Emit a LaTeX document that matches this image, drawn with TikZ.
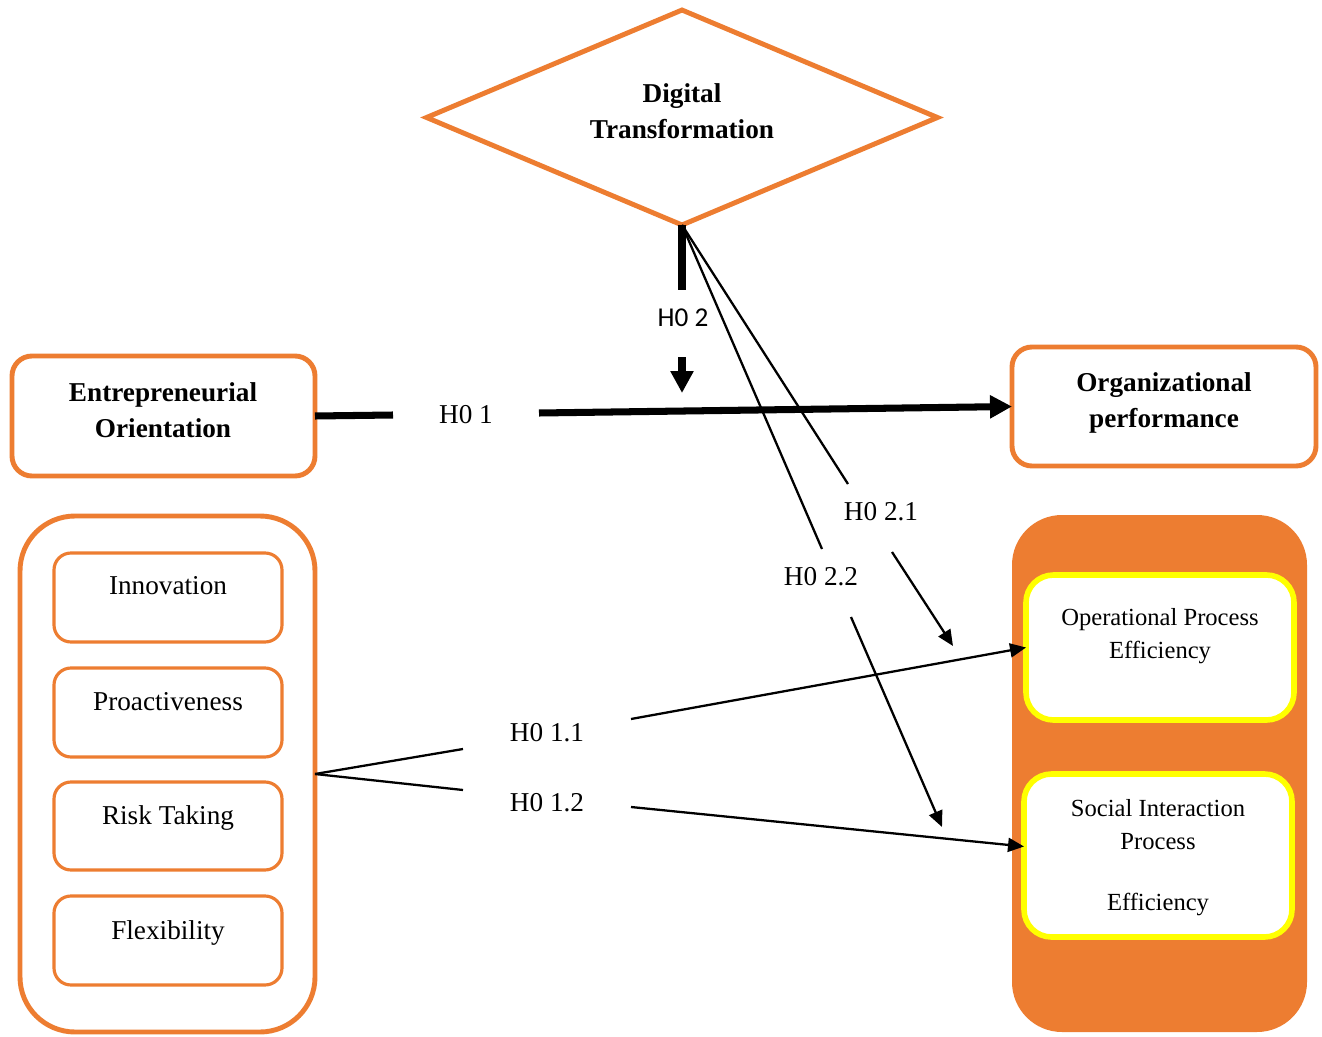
\documentclass[tikz,border=0pt]{standalone}
\usepackage{fontspec}
\setmainfont{Liberation Serif}
\newfontfamily\calibri{Carlito}
\usetikzlibrary{shapes.geometric,arrows.meta,fit,calc}
\definecolor{orng}{HTML}{ED7D31}
\definecolor{yel}{HTML}{FFFF00}
\begin{document}
\begin{tikzpicture}[x=0.02cm,y=-0.02cm,
  obox/.style={draw=orng, line width=2.8pt, rounded corners=0.4cm, inner sep=0pt, outer sep=0pt},
  ibox/.style={draw=orng, line width=1.8pt, rounded corners=0.34cm, inner sep=0pt, outer sep=0pt},
  bigbox/.style={draw=orng, line width=2.8pt, rounded corners=1.1cm, inner sep=0pt, outer sep=0pt},
  fillbox/.style={fill=orng, draw=none, rounded corners=1cm, inner sep=0pt, outer sep=0pt},
  ybox/.style={draw=yel, fill=white, line width=3.2pt, rounded corners=0.55cm, inner sep=0pt, outer sep=0pt},
  btxt/.style={font=\fontsize{15.5}{20.5}\selectfont\bfseries, align=center, inner sep=0pt},
  txt/.style={font=\fontsize{15.5}{20.5}\selectfont, inner sep=0pt},
  stxt/.style={font=\fontsize{14}{18.7}\selectfont, align=center, inner sep=0pt},
  hyp/.style={font=\fontsize{15.5}{20.5}\selectfont, inner sep=0pt, anchor=base},
  heavy/.style={line width=4pt},
  slim/.style={line width=1.3pt},
  bigtip/.style={-{Triangle[length=0.44cm,width=0.44cm]}},
  smalltip/.style={-{Triangle[length=0.32cm,width=0.28cm]}}
]
\fill[white] (0,0) rectangle (1322,1037);
\useasboundingbox (0,0) rectangle (1322,1037);

% diamond
\node[draw=orng, line width=2.8pt, diamond, aspect=2.4, minimum width=10.22cm, minimum height=4.3cm, inner sep=0pt, outer sep=0pt] (dt) at (682,117.5) {};
\node[btxt] (dtt) at (682,111.5) {Digital\\Transformation};

% EO and OP boxes
\node[obox, fit={(12,356) (315,476)}] (eo) {};
\node[btxt] (eot) at (163,410) {Entrepreneurial\\Orientation};
\node[obox, fit={(1012,347) (1316,466)}] (op) {};
\node[btxt] (opt) at (1164,403) {Organizational\\performance};

% left dimension box
\node[bigbox, fit={(20,516) (315,1032)}] (eb) {};
\node[ibox, fit={(54,553) (282,642)}] (inn) {};
\node[ibox, fit={(54,668) (282,757)}] (pro) {};
\node[ibox, fit={(54,782) (282,870)}] (risk) {};
\node[ibox, fit={(54,896) (282,985)}] (flex) {};
\node[txt, anchor=base] (innt) at (168,594) {Innovation};
\node[txt, anchor=base] (prot) at (168,710) {Proactiveness};
\node[txt, anchor=base] (riskt) at (168,824) {Risk Taking};
\node[txt, anchor=base] (flext) at (168,939) {Flexibility};

% right performance box
\node[fillbox, fit={(1012,515) (1307,1032)}] (pb) {};
\node[ybox, fit={(1026,575) (1294,720)}] (ope) {};
\node[ybox, fit={(1024,774) (1292,937)}] (sipe) {};
\node[stxt] (opet) at (1160,636) {Operational Process\\Efficiency};
\node[stxt] (sipet) at (1158,858) {Social Interaction\\Process\\[16pt]Efficiency};

% hypothesis labels
\node[hyp] (h1) at (466,423) {H0 1};
\node[hyp, font=\fontsize{15.5}{20.5}\selectfont\calibri] (h2) at (683,326) {H0 2};
\node[hyp] (h21) at (881,520) {H0 2.1};
\node[hyp] (h22) at (821,585) {H0 2.2};
\node[hyp] (h11) at (547,741) {H0 1.1};
\node[hyp] (h12) at (547,811) {H0 1.2};

% connector break points
\coordinate (a1) at (393,415);
\coordinate (b1) at (539,413);
\coordinate (a2) at (682,290);
\coordinate (b2s) at (682,357);
\coordinate (b2e) at (682,393);
\coordinate (a21) at (848,484);
\coordinate (b21) at (892,552);
\coordinate (e21) at (953,646);
\coordinate (a22) at (822,549);
\coordinate (b22) at (851,617);
\coordinate (e22) at (942,827);
\coordinate (a11) at (463,749);
\coordinate (b11) at (631,719);
\coordinate (a12) at (463,790);
\coordinate (b12) at (631,807);

% H0 1
\draw[heavy] (eo.east) -- (a1);
\draw[heavy, bigtip] (b1) -- (op.west);
% H0 2
\draw[heavy] (dt.south) -- (a2);
\draw[heavy, bigtip] (b2s) -- (b2e);
% H0 2.1 / 2.2
\draw[slim] (dt.south) -- (a21);
\draw[slim, smalltip] (b21) -- (e21);
\draw[slim] (dt.south) -- (a22);
\draw[slim, smalltip] (b22) -- (e22);
% H0 1.1 / 1.2
\draw[slim] (eb.east) -- (a11);
\draw[slim, smalltip] (b11) -- (ope.west);
\draw[slim] (eb.east) -- (a12);
\draw[slim, smalltip] (b12) -- ([yshift=0.18cm]sipe.west);
\end{tikzpicture}
\end{document}
